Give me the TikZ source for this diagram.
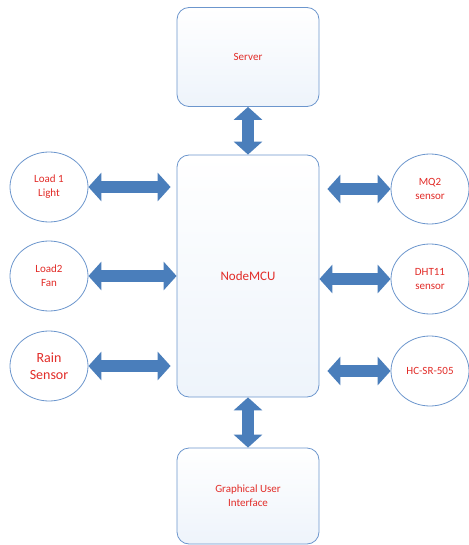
\documentclass[tikz,border=0pt]{standalone}
\usepackage{fontspec}
\setmainfont{Carlito}
\usetikzlibrary{arrows.meta,shapes.geometric}
\definecolor{boxline}{RGB}{108,150,205}
\definecolor{boxfill}{RGB}{238,244,251}
\definecolor{arrowblue}{RGB}{74,126,187}
\definecolor{labelred}{RGB}{226,44,40}
\tikzset{
  blockbox/.style={draw=boxline, line width=0.8pt, rounded corners=12pt, top color=white, bottom color=boxfill,
    minimum width=142pt, text=labelred, font=\fontsize{11}{14}\selectfont, align=center, inner sep=0pt},
  devcircle/.style={ellipse, draw=boxline, line width=0.8pt, fill=white, minimum width=78pt, minimum height=70pt,
    text=labelred, font=\fontsize{11}{14}\selectfont, align=center, inner sep=0pt},
  bigarrow/.style={draw=arrowblue, line width=12pt,
    {Triangle[width=28pt,length=13pt]}-{Triangle[width=28pt,length=13pt]}, arrowblue},
}
\begin{document}
\begin{tikzpicture}[x=1pt,y=-1pt]
\useasboundingbox (0,0) rectangle (468,545);
\node[blockbox, minimum height=99pt] (server) at (248,57) {Server};
\node[blockbox, minimum height=242pt, font=\fontsize{13}{16}\selectfont] (mcu) at (248,276) {NodeMCU};
\node[blockbox, minimum height=96pt] (gui) at (248,496) {Graphical User\\Interface};
\node[devcircle] (load1) at (49,187) {Load 1\\Light};
\node[devcircle] (load2) at (49,276) {Load2\\Fan};
\node[devcircle, font=\fontsize{14}{17}\selectfont] (rain) at (49,366) {Rain\\Sensor};
\node[devcircle] (mq2) at (430,189) {MQ2\\sensor};
\node[devcircle] (dht) at (430,279) {DHT11\\sensor};
\node[devcircle] (hc) at (430,371) {HC-SR-505};
\draw[bigarrow] (server.south) -- (mcu.north);
\draw[bigarrow] (mcu.south) -- (gui.north);
\draw[bigarrow, shorten >=6pt] (load1) -- (load1 -| mcu.west);
\draw[bigarrow] (load2) -- (load2 -| mcu.west);
\draw[bigarrow, shorten >=6pt] (rain) -- (rain -| mcu.west);
\draw[bigarrow, shorten >=8pt] (mq2) -- (mq2 -| mcu.east);
\draw[bigarrow] (dht) -- (dht -| mcu.east);
\draw[bigarrow, shorten >=8pt] (hc) -- (hc -| mcu.east);
\end{tikzpicture}
\end{document}
